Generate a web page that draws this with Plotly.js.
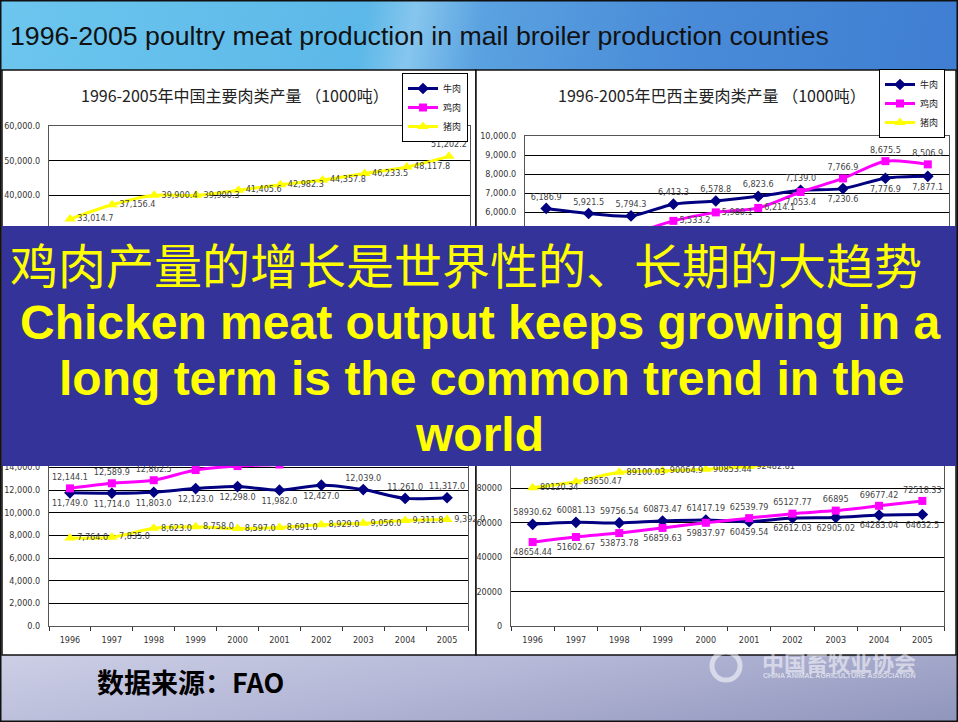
<!DOCTYPE html>
<html>
<head>
<meta charset="utf-8">
<script src="https://cdn.plot.ly/plotly-3.0.1.min.js"></script>
<style>
  html, body { margin: 0; padding: 0; background: #fff; }
  #wrap { position: relative; width: 958px; height: 722px; overflow: hidden; }
  #hdr { position: absolute; left: 0; top: 0; width: 958px; height: 72px;
    background: linear-gradient(100deg, #6cc6ee 0%, #5cb8e8 38%, #86c6ee 43%, #5aa2e0 50%, #4a8cd8 70%, #3f7ed2 100%); }
  #ftr { position: absolute; left: 0; top: 654px; width: 958px; height: 68px;
    background: linear-gradient(170deg, #cdcfe6 0%, #b4b7d6 45%, #9095bc 100%); }
  #chart { position: absolute; left: 0; top: 0; width: 958px; height: 722px; }
</style>
</head>
<body>
<div id="wrap">
  <div id="hdr"></div>
  <div id="ftr"></div>
  <div id="chart"></div>
</div>
<script>
// years on the category axis
const years = ['1996', '1997', '1998', '1999', '2000', '2001', '2002', '2003', '2004', '2005'];
const seriesNames = ['牛肉', '鸡肉', '猪肉'];

// China (1000 t) - beef and chicken sit under the banner, values estimated
const chinaBeef = [3557, 4409, 4799, 5054, 5328, 5488, 5846, 6305, 6759, 7115];
const chinaChicken = [8937, 9410, 10120, 10470, 10720, 10890, 11190, 11690, 10850, 11340];
const chinaPork = [33014.7, 37156.4, 39900.4, 39900.3, 41405.6, 42982.3, 44357.8, 46233.5, 48117.8, 51202.2];

// Brazil (1000 t) - pork and early chicken hidden, estimated
const brazilBeef = [6186.9, 5921.5, 5794.3, 6413.3, 6578.8, 6823.6, 7139.0, 7230.6, 7776.9, 7877.1];
const brazilChicken = [4052, 4461, 4853, 5533.2, 5980.1, 6214.1, 7053.4, 7766.9, 8675.5, 8506.9];
const brazilPork = [1600, 1540, 1652, 1752, 2556, 2637, 2872, 2696, 2620, 2708];

// USA (1000 t) - chicken after 2000 hidden, estimated
const usBeef = [11749.0, 11714.0, 11803.0, 12123.0, 12298.0, 11982.0, 12427.0, 12039.0, 11261.0, 11317.0];
const usChicken = [12144.1, 12589.9, 12862.5, 13760, 14110, 14250, 14470, 14700, 15290, 15870];
const usPork = [7764.0, 7835.0, 8623.0, 8758.0, 8597.0, 8691.0, 8929.0, 9056.0, 9311.8, 9392.0];

// World (1000 t) - pork after 2001 hidden, estimated
const worldBeef = [58930.62, 60081.13, 59756.54, 60873.47, 61417.19, 60459.54, 62612.03, 62905.02, 64283.04, 64632.5];
const worldChicken = [48654.44, 51602.67, 53873.78, 56859.63, 59837.97, 62539.79, 65127.77, 66895, 69677.42, 72518.33];
const worldPork = [80120.34, 83650.47, 89100.03, 90064.9, 90853.44, 92482.81, 94600, 96700, 98600, 100500];

const W = 958, H = 722;
const px = v => v / W;
const py = v => 1 - v / H;

const narrow = 'Liberation Sans Narrow, DejaVu Sans Condensed, Arial Narrow, sans-serif';
const labelFont = { family: narrow, size: 9, color: '#444' };

const styles = [
  { color: '#000080', symbol: 'diamond', size: 9 },
  { color: '#ff00ff', symbol: 'square', size: 8 },
  { color: '#ffff00', symbol: 'triangle-up', size: 10 }
];

function rep(pos, n) { return Array(n).fill(pos); }

function makeTrace(i, ys, xa, ya, pos, legend, fmt) {
  const s = styles[i];
  const t = {
    x: years, y: ys, name: seriesNames[i],
    type: 'scatter', mode: 'lines+markers+text',
    xaxis: xa, yaxis: ya,
    line: { color: s.color, width: 3, shape: 'spline', smoothing: 0.8 },
    marker: { color: s.color, symbol: s.symbol, size: s.size },
    textposition: pos, textfont: labelFont,
    cliponaxis: false,
    hoverinfo: 'x+y+name'
  };
  if (fmt === 'raw') t.text = ys.map(String);
  else t.texttemplate = '%{y:,.1f}';
  if (legend) t.legend = legend; else t.showlegend = false;
  return t;
}

const data = [
  makeTrace(0, chinaBeef, 'x', 'y', rep('middle right', 10), 'legend'),
  makeTrace(1, chinaChicken, 'x', 'y', rep('middle right', 10), 'legend'),
  makeTrace(2, chinaPork, 'x', 'y', rep('middle right', 9).concat(['top center']), 'legend'),

  makeTrace(0, brazilBeef, 'x2', 'y2', rep('top center', 7).concat(rep('bottom center', 3)), 'legend2'),
  makeTrace(1, brazilChicken, 'x2', 'y2', rep('middle right', 6).concat(['bottom center', 'top center', 'top center', 'top center']), 'legend2'),
  makeTrace(2, brazilPork, 'x2', 'y2', rep('middle right', 9).concat(['middle left']), 'legend2'),

  makeTrace(0, usBeef, 'x3', 'y3', rep('bottom center', 7).concat(rep('top center', 3))),
  makeTrace(1, usChicken, 'x3', 'y3', rep('top center', 10)),
  makeTrace(2, usPork, 'x3', 'y3', rep('middle right', 10)),

  makeTrace(0, worldBeef, 'x4', 'y4', rep('top center', 5).concat(rep('bottom center', 5)), null, 'raw'),
  makeTrace(1, worldChicken, 'x4', 'y4', rep('bottom center', 5).concat(rep('top center', 5)), null, 'raw'),
  makeTrace(2, worldPork, 'x4', 'y4', rep('middle right', 8).concat(['top center', 'top center']), null, 'raw')
];

function xAxis(x0, x1, anchor) {
  return {
    domain: [px(x0), px(x1)], anchor: anchor,
    type: 'category', range: [-0.5, 9.5],
    tickson: 'boundaries', ticks: 'outside', ticklen: 4, tickcolor: '#333',
    ticklabelstandoff: 5,
    showline: true, mirror: true, linecolor: '#555', linewidth: 1,
    showgrid: false, zeroline: false,
    tickfont: { family: narrow, size: 9, color: '#333' }
  };
}
function yAxis(top, bottom, anchor, max, step, fmt) {
  return {
    domain: [py(bottom), py(top)], anchor: anchor,
    range: [0, max], dtick: step, tickformat: fmt,
    showline: true, mirror: true, linecolor: '#555', linewidth: 1,
    showgrid: true, gridcolor: '#000', gridwidth: 1, zeroline: false,
    ticks: '', ticklabelstandoff: 6,
    tickfont: { family: narrow, size: 9, color: '#333' }
  };
}

const legendBase = {
  bgcolor: '#fff', bordercolor: '#000', borderwidth: 1,
  font: { family: 'Noto Sans CJK SC', size: 9, color: '#222' },
  tracegroupgap: 0, itemwidth: 30, xanchor: 'right', yanchor: 'top',
  xref: 'paper', yref: 'paper'
};

const cjk = 'Noto Sans CJK SC, sans-serif';
const arial = 'Liberation Sans, Arial, sans-serif';

function note(text, x, y, font, anchor) {
  return { text: text, xref: 'paper', yref: 'paper', x: px(x), y: py(y),
    xanchor: anchor || 'center', yanchor: 'middle', showarrow: false, font: font };
}

const layout = {
  width: W, height: H, autosize: false,
  margin: { l: 0, r: 0, t: 0, b: 0 },
  paper_bgcolor: 'rgba(0,0,0,0)', plot_bgcolor: '#fff',
  showlegend: true,
  title: {
    text: '1996-2005 poultry meat production in mail broiler production counties',
    x: px(10), xanchor: 'left', y: py(36), yanchor: 'middle',
    font: { family: arial, size: 26.7, color: '#111' }
  },
  xaxis: xAxis(49, 470, 'y'),
  yaxis: yAxis(126, 333, 'x', 60000, 10000, ',.1f'),
  xaxis2: xAxis(525, 949, 'y2'),
  yaxis2: yAxis(136, 326, 'x2', 10000, 1000, ',.1f'),
  xaxis3: xAxis(49, 468, 'y3'),
  yaxis3: yAxis(422, 626, 'x3', 18000, 2000, ',.1f'),
  xaxis4: xAxis(511, 944, 'y4'),
  yaxis4: yAxis(419, 626, 'x4', 120000, 20000, 'd'),
  legend: Object.assign({}, legendBase, { x: px(468), y: py(73) }),
  legend2: Object.assign({}, legendBase, { x: px(945), y: py(69) }),
  shapes: [
    // chart panels
    { type: 'rect', xref: 'paper', yref: 'paper', layer: 'below',
      x0: px(2), x1: px(476), y0: py(655), y1: py(70),
      fillcolor: '#fff', line: { color: '#111', width: 1.5 } },
    { type: 'rect', xref: 'paper', yref: 'paper', layer: 'below',
      x0: px(476), x1: px(956), y0: py(655), y1: py(70),
      fillcolor: '#fff', line: { color: '#111', width: 1.5 } },
    // blue banner over the middle
    { type: 'rect', xref: 'paper', yref: 'paper', layer: 'above',
      x0: px(2), x1: px(958), y0: py(466), y1: py(226),
      fillcolor: '#333399', line: { width: 0 } },
    // logo ring
    { type: 'circle', xref: 'paper', yref: 'paper', layer: 'above',
      x0: px(712), x1: px(740), y0: py(680), y1: py(652),
      line: { color: 'rgba(255,255,255,0.55)', width: 5 }, fillcolor: 'rgba(0,0,0,0)' },
    // slide frame
    { type: 'rect', xref: 'paper', yref: 'paper', layer: 'above',
      x0: 0, x1: 1, y0: 0, y1: 1, line: { color: '#111', width: 3 } }
  ],
  annotations: [
    note('1996-2005年中国主要肉类产量 （1000吨）', 235, 95, { family: cjk, size: 16, color: '#222' }),
    note('1996-2005年巴西主要肉类产量 （1000吨）', 712, 95, { family: cjk, size: 16, color: '#222' }),
    note('鸡肉产量的增长是世界性的、长期的大趋势', 466, 263, { family: cjk, size: 48, color: '#ffff00' }),
    note('Chicken meat output keeps growing in a', 480, 322, { family: arial, size: 48, color: '#ffff00', weight: 'bold' }),
    note('long term is the common trend in the', 481, 378, { family: arial, size: 48, color: '#ffff00', weight: 'bold' }),
    note('world', 479, 434, { family: arial, size: 48, color: '#ffff00', weight: 'bold' }),
    note('数据来源：FAO', 95, 681, { family: cjk, size: 27, color: '#000', weight: 'bold' }, 'left'),
    note('中国畜牧业协会', 839, 661, { family: cjk, size: 22, color: 'rgba(255,255,255,0.55)', weight: 'bold' }),
    note('CHINA ANIMAL AGRICULTURE ASSOCIATION', 839, 675, { family: arial, size: 7, color: 'rgba(255,255,255,0.6)', weight: 'bold' })
  ]
};

Plotly.newPlot('chart', data, layout, { displayModeBar: false, staticPlot: true });
</script>
</body>
</html>
